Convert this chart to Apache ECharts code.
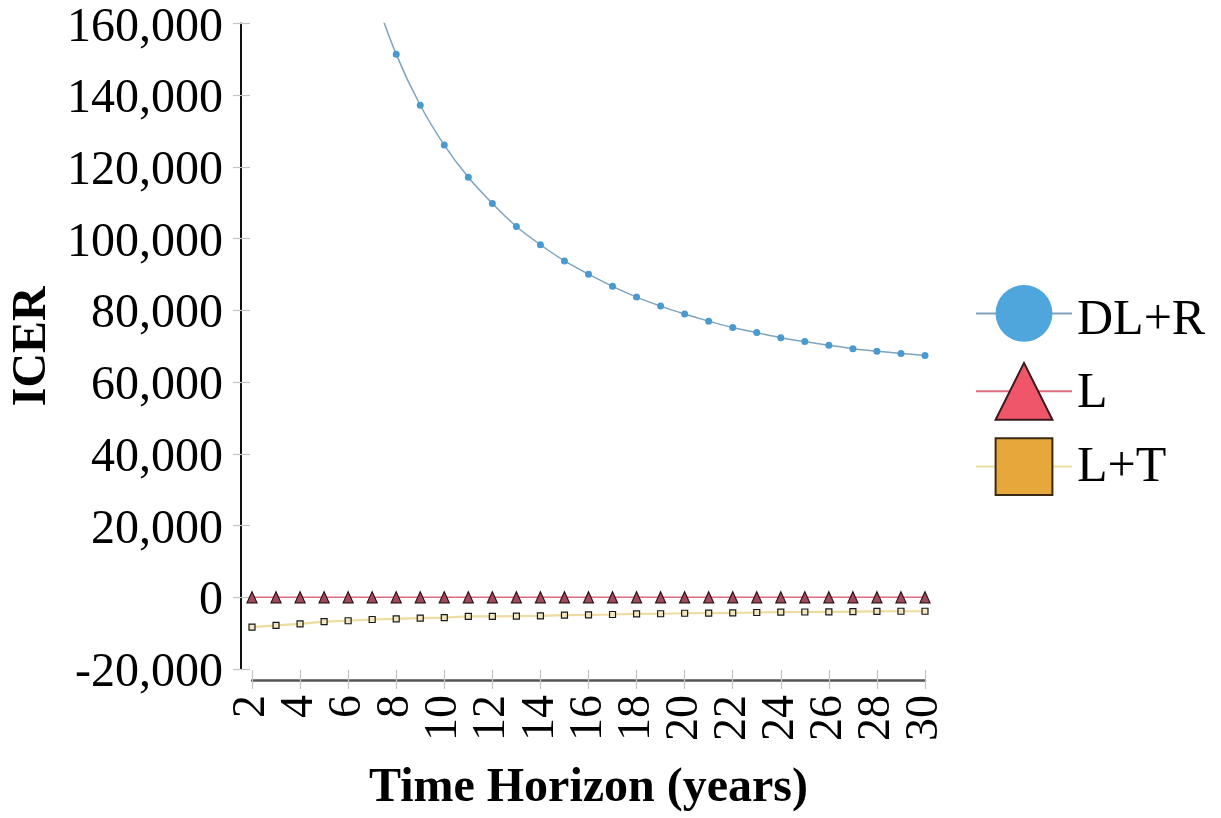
<!DOCTYPE html>
<html>
<head>
<meta charset="utf-8">
<script src="https://cdn.jsdelivr.net/npm/echarts@6/dist/echarts.min.js"></script>
<style>
html,body{margin:0;padding:0;background:#fff;}
#chart{width:1221px;height:818px;}
</style>
</head>
<body>
<div id="chart"></div>
<script>
// Time horizon (years)
var years = [2,3,4,5,6,7,8,9,10,11,12,13,14,15,16,17,18,19,20,21,22,23,24,25,26,27,28,29,30];
// DL+R ICER (years 2-6 lie far above the plotted range; year 7 is just above the top)
var dlrYears = [7,8,9,10,11,12,13,14,15,16,17,18,19,20,21,22,23,24,25,26,27,28,29,30];
var dlrValues = [169600,151400,137200,126100,117100,109800,103400,98300,93800,90100,86700,83700,81200,79000,77000,75200,73800,72400,71300,70300,69300,68600,68000,67400];
// L ICER
var lValues = [0,0,0,0,0,0,0,0,0,0,0,0,0,0,0,0,0,0,0,0,0,0,0,0,0,0,0,0,0];
// L+T ICER
var ltValues = [-8300,-7850,-7400,-6800,-6550,-6200,-6000,-5800,-5700,-5350,-5300,-5250,-5200,-4950,-4900,-4800,-4650,-4600,-4450,-4400,-4350,-4250,-4150,-4100,-4050,-4000,-3950,-3900,-3900];
var seriesNames = ['DL+R','L','L+T'];
var yTicks = {min:-20000, max:160000, interval:20000};
var xTicks = {min:2, max:30, interval:2};

function pairs(xs, ys){ return xs.map(function(x,i){ return [x, ys[i]]; }); }
function fmt(v){
  var s = Math.abs(v).toString().replace(/\B(?=(\d{3})+(?!\d))/g, ',');
  return '{a|' + (v < 0 ? '-' : '') + s + '}';
}
var serif = "'Liberation Serif','Times New Roman',serif";

var chart = echarts.init(document.getElementById('chart'));
var tickStyle = {color:'#c4c4c4', width:1.2};
chart.setOption({
  animation:false,
  backgroundColor:'#fff',
  grid:{left:252, right:296, top:23.5, bottom:146, containLabel:false},
  legend:{
    orient:'vertical', left:970, top:280,
    itemWidth:96, itemHeight:71, itemGap:16.5,
    formatter:function(n){ return '{' + (n === 'DL+R' ? 'd' : (n === 'L' ? 'l' : 't')) + '|' + n + '}'; },
    textStyle:{fontFamily:serif, fontSize:50, color:'#000',
      rich:{
        d:{fontFamily:serif, fontSize:50, color:'#000', padding:[14,0,0,0]},
        l:{fontFamily:serif, fontSize:50, color:'#000', padding:[6,0,0,0]},
        t:{fontFamily:serif, fontSize:50, color:'#000', padding:[2,0,0,0]}
      }},
    data:[
      {name:'DL+R', itemStyle:{color:'#4ea6dc', borderWidth:0}},
      {name:'L', itemStyle:{color:'#f0566a', borderColor:'#3a1a1e', borderWidth:2}},
      {name:'L+T', itemStyle:{color:'#e6a83a', borderColor:'#3a2a14', borderWidth:2}}
    ]
  },
  xAxis:[{
    type:'value', min:xTicks.min, max:xTicks.max, interval:xTicks.interval,
    position:'bottom', offset:11,
    axisLine:{show:true, onZero:false, lineStyle:{color:'#555', width:2.5}},
    axisTick:{show:true, length:9, lineStyle:tickStyle},
    splitLine:{show:false},
    axisLabel:{rotate:90, margin:15, fontFamily:serif, fontSize:46, color:'#000'},
    name:'Time Horizon (years)', nameLocation:'middle', nameGap:85,
    nameTextStyle:{fontFamily:serif, fontSize:48, fontWeight:'bold', color:'#000'}
  },{
    type:'value', min:xTicks.min, max:xTicks.max, interval:xTicks.interval,
    position:'bottom', offset:11,
    axisLine:{show:false, onZero:false},
    axisTick:{show:true, inside:true, length:10, lineStyle:tickStyle},
    splitLine:{show:false}, axisLabel:{show:false}
  }],
  yAxis:[{
    type:'value', min:yTicks.min, max:yTicks.max, interval:yTicks.interval,
    position:'left', offset:11,
    axisLine:{show:true, onZero:false, lineStyle:{color:'#111', width:2}},
    axisTick:{show:true, length:8, lineStyle:tickStyle},
    splitLine:{show:false},
    axisLabel:{margin:18, fontFamily:serif, fontSize:48, color:'#000', formatter:fmt,
      rich:{a:{fontFamily:serif, fontSize:48, color:'#000', padding:[9,0,0,0]}}},
    name:'ICER', nameLocation:'middle', nameGap:175, nameRotate:90,
    nameTextStyle:{fontFamily:serif, fontSize:48, fontWeight:'bold', color:'#000'}
  },{
    type:'value', min:yTicks.min, max:yTicks.max, interval:yTicks.interval,
    position:'left', offset:11,
    axisLine:{show:false, onZero:false},
    axisTick:{show:true, inside:true, length:9, lineStyle:tickStyle},
    splitLine:{show:false}, axisLabel:{show:false}
  }],
  series:[{
    name:seriesNames[0], type:'line', smooth:0.3, clip:true,
    data:pairs(dlrYears, dlrValues),
    symbol:'circle', symbolSize:7,
    itemStyle:{color:'#4a9ad2'},
    lineStyle:{color:'#7fa3bd', width:1.5}
  },{
    name:seriesNames[1], type:'line', clip:true,
    data:pairs(years, lValues),
    symbol:'triangle', symbolSize:[10,11],
    itemStyle:{color:'#a04a5c', borderColor:'#2a1014', borderWidth:1.2},
    lineStyle:{color:'#e06c7e', width:1.5}
  },{
    name:seriesNames[2], type:'line', clip:true,
    data:pairs(years, ltValues),
    symbol:'rect', symbolSize:6,
    itemStyle:{color:'#f3e6c4', borderColor:'#1a1a1a', borderWidth:1.2},
    lineStyle:{color:'#eddba0', width:2.2}
  }]
});
</script>
</body>
</html>
